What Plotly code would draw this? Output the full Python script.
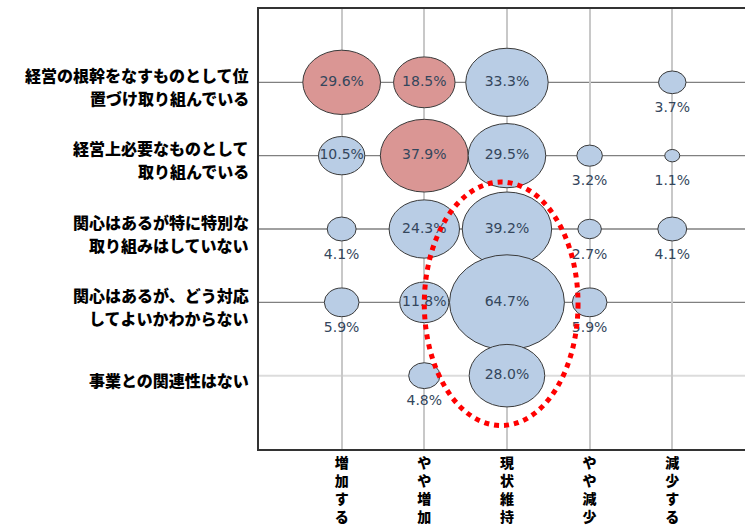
import math
import plotly.graph_objects as go

# Survey: business involvement (rows) vs. expected outlook (columns), share in %
row_labels = [
    "経営の根幹をなすものとして位<br>置づけ取り組んでいる",
    "経営上必要なものとして<br>取り組んでいる",
    "関心はあるが特に特別な<br>取り組みはしていない",
    "関心はあるが、どう対応<br>してよいかわからない",
    "事業との関連性はない",
]
col_labels = ["増加する", "やや増加", "現状維持", "やや減少", "減少する"]

increase = [29.6, 10.5, 4.1, 5.9, None]
slight_increase = [18.5, 37.9, 24.3, 11.8, 4.8]
maintain = [33.3, 29.5, 39.2, 64.7, 28.0]
slight_decrease = [None, 3.2, 2.7, 5.9, None]
decrease = [3.7, 1.1, 4.1, None, None]

# (row, column) cells drawn in the accent colour
highlighted = [(0, 0), (0, 1), (1, 1)]

columns = [increase, slight_increase, maintain, slight_decrease, decrease]

BLUE = "#b9cde5"
RED = "#da9694"
EDGE = "#3a3a3a"
LABEL_COLOR = "#34465c"
JP_FONT = dict(family="Noto Sans CJK JP", size=16, color="black", weight=900)

vmax = max(v for col in columns for v in col if v is not None)
RX_MAX = 0.695   # half-width (x units) of the largest bubble
RY_MAX = 0.648   # half-height (y units) of the largest bubble
INSIDE_MIN = 10  # values at or above this are labelled inside the bubble
BELOW_OFFSET = 0.355
ROW_LABEL_LINE = 23  # px between the lines of a row label
ROW_LABEL_DROP = 4   # px the label block sits below its row line

shapes = []
annotations = []

# horizontal row lines and row labels
for r, label in enumerate(row_labels):
    last = r == len(row_labels) - 1
    shapes.append(dict(
        type="line", xref="paper", x0=0, x1=1, yref="y", y0=r + 1, y1=r + 1,
        line=dict(color="#dcdcdc" if last else "#808080", width=2 if last else 1.3),
        layer="below",
    ))
    lines = label.split("<br>")
    n = len(lines)
    for i, line in enumerate(lines):
        offset = (i - (n - 1) / 2) * ROW_LABEL_LINE + ROW_LABEL_DROP
        annotations.append(dict(
            text=line, xref="paper", x=0, xanchor="right", xshift=-8,
            yref="y", y=r + 1, yanchor="middle", yshift=-offset,
            showarrow=False, font=JP_FONT,
        ))

tx, ty, tt = [], [], []
for r in range(len(row_labels)):
    for c, col in enumerate(columns):
        v = col[r]
        if v is None:
            continue
        k = math.sqrt(v / vmax)
        x, y = c + 1, r + 1
        shapes.append(dict(
            type="circle", xref="x", yref="y",
            x0=x - RX_MAX * k, x1=x + RX_MAX * k,
            y0=y - RY_MAX * k, y1=y + RY_MAX * k,
            fillcolor=RED if (r, c) in highlighted else BLUE,
            line=dict(color=EDGE, width=1),
            layer="between",
        ))
        tx.append(x)
        ty.append(y if v >= INSIDE_MIN else y + BELOW_OFFSET)
        tt.append(f"{v:.1f}%")

# dotted callout around the "現状維持" cluster
shapes.append(dict(
    type="circle", xref="x", yref="y",
    x0=2.0, x1=3.86, y0=2.36, y1=5.68,
    line=dict(color="#ff0000", width=5, dash="dot"),
    fillcolor="rgba(0,0,0,0)",
    layer="above",
))

fig = go.Figure()
fig.add_trace(go.Scatter(
    x=tx, y=ty, text=tt, mode="text",
    textfont=dict(family="DejaVu Sans", size=14, color=LABEL_COLOR),
    hoverinfo="skip", showlegend=False,
))

fig.update_layout(
    width=745, height=531,
    margin=dict(l=259, r=0, t=9, b=82),
    paper_bgcolor="white", plot_bgcolor="white",
    shapes=shapes,
    annotations=annotations,
    showlegend=False,
    xaxis=dict(
        range=[0, 5.88],
        tickvals=[1, 2, 3, 4, 5],
        ticktext=["<br>".join(list(s)) for s in col_labels],
        tickfont=dict(family="Noto Sans CJK JP", size=14, color="black", weight=900),
        showgrid=True, gridcolor="#c8c8c8", gridwidth=2,
        showline=True, linecolor="#333333", linewidth=2, mirror=True,
        zeroline=False, ticks="", fixedrange=True,
    ),
    yaxis=dict(
        range=[6, 0],
        tickvals=[1, 2, 3, 4, 5],
        showticklabels=False,
        showgrid=False,
        showline=True, linecolor="#333333", linewidth=2, mirror=False,
        zeroline=False, ticks="", fixedrange=True,
    ),
)

fig.write_html("out.html")
